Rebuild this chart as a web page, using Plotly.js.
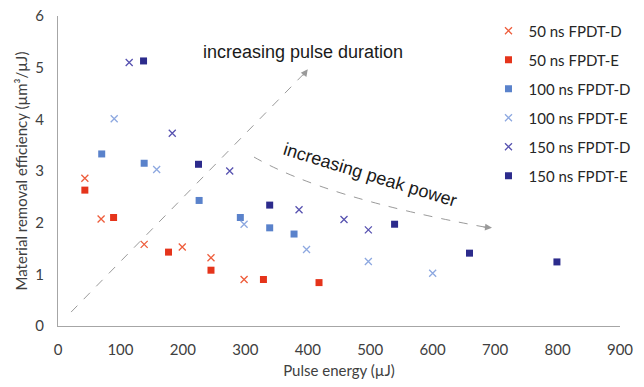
<!DOCTYPE html>
<html>
<head>
<meta charset="utf-8">
<script src="https://cdn.plot.ly/plotly-3.0.1.min.js"></script>
<style>html,body{margin:0;padding:0;background:#fff;}#chart{width:644px;height:387px;}</style>
</head>
<body>
<div id="chart"></div>
<script>
// Data (pulse energy in µJ, efficiency in µm³/µJ)
const seriesNames = ["50 ns FPDT-D", "50 ns FPDT-E", "100 ns FPDT-D", "100 ns FPDT-E", "150 ns FPDT-D", "150 ns FPDT-E"];
const x50D = [43, 69, 138, 199, 245, 298];
const y50D = [2.86, 2.07, 1.58, 1.53, 1.32, 0.90];
const x50E = [43, 89, 177, 245, 329, 418];
const y50E = [2.63, 2.10, 1.43, 1.08, 0.90, 0.84];
const x100D = [70, 138, 226, 292, 339, 378];
const y100D = [3.33, 3.15, 2.43, 2.10, 1.90, 1.78];
const x100E = [90, 158, 298, 398, 497, 600];
const y100E = [4.01, 3.03, 1.97, 1.48, 1.25, 1.02];
const x150D = [114, 183, 275, 386, 458, 497];
const y150D = [5.10, 3.73, 3.00, 2.25, 2.06, 1.86];
const x150E = [137, 225, 339, 539, 659, 799];
const y150E = [5.13, 3.13, 2.34, 1.97, 1.41, 1.24];
const xTicks = [0, 100, 200, 300, 400, 500, 600, 700, 800, 900];
const yTicks = [0, 1, 2, 3, 4, 5, 6];

const FONT = "Lato, 'Open Sans', sans-serif";
const colors = ["#EE5D3C", "#E5341B", "#5A82CB", "#8DA8E0", "#5752B0", "#2C2B8C"];

function xTrace(x, y, i) {
  return {x: x, y: y, name: seriesNames[i], type: "scatter", mode: "markers", legendgroup: "g" + i,
    marker: {symbol: "x-thin", size: 7, color: colors[i], line: {color: colors[i], width: 1.3}}};
}
function sqTrace(x, y, i) {
  return {x: x, y: y, name: seriesNames[i], type: "scatter", mode: "markers", legendgroup: "g" + i,
    marker: {symbol: "square", size: 7, color: colors[i]}};
}

const data = [
  xTrace(x50D, y50D, 0),
  sqTrace(x50E, y50E, 1),
  sqTrace(x100D, y100D, 2),
  xTrace(x100E, y100E, 3),
  xTrace(x150D, y150D, 4),
  sqTrace(x150E, y150E, 5)
];

const ANN_FONT = {family: "'Liberation Sans', Arial, sans-serif", size: 18, color: "#1a1a1a"};
const GRAY = "#9A9A9A";

const layout = {
  width: 644, height: 387,
  margin: {l: 58, r: 24, t: 16, b: 61, autoexpand: false},
  paper_bgcolor: "#fff", plot_bgcolor: "#fff",
  font: {family: FONT, size: 15, color: "#404040"},
  showlegend: true,
  legend: {x: 0.766, y: 1.005, xanchor: "left", yanchor: "top", bgcolor: "rgba(0,0,0,0)",
    font: {family: FONT, size: 15, color: "#262626"}, tracegroupgap: 6.5, itemwidth: 30},
  xaxis: {range: [0, 900], tickvals: xTicks, ticktext: xTicks.map(String), showgrid: false, zeroline: false,
    showline: true, linecolor: "#A6A6A6", linewidth: 1, ticks: "", ticklabelstandoff: 10, automargin: false,
    tickfont: {family: FONT, size: 15, color: "#404040"},
    title: {text: "Pulse energy (µJ)", font: {family: FONT, size: 15, color: "#404040"}, standoff: 8}},
  yaxis: {range: [0, 6], tickvals: yTicks, ticktext: yTicks.map(String), showgrid: false, zeroline: false,
    showline: true, linecolor: "#A6A6A6", linewidth: 1, ticks: "", ticklabelstandoff: 10, automargin: false,
    tickfont: {family: FONT, size: 15, color: "#404040"},
    title: {text: "Material removal efficiency (µm³/µJ)", font: {family: FONT, size: 15, color: "#404040"}, standoff: 4}},
  shapes: [
    {type: "line", xref: "x", yref: "y", x0: 21, y0: 0.27, x1: 396, y1: 4.91,
      line: {color: GRAY, width: 1, dash: "dash"}},
    {type: "path", xref: "x", yref: "y", path: "M 313.9,3.27 Q 429.2,2.47 690,1.90",
      line: {color: GRAY, width: 1, dash: "dash"}}
  ],
  annotations: [
    {x: 400, y: 4.97, ax: -6, ay: 8, text: "", xref: "x", yref: "y",
      showarrow: true, arrowhead: 2, arrowsize: 1.4, arrowwidth: 1, arrowcolor: GRAY},
    {x: 695, y: 1.90, ax: -10, ay: -1, text: "", xref: "x", yref: "y",
      showarrow: true, arrowhead: 2, arrowsize: 1.4, arrowwidth: 1, arrowcolor: GRAY},
    {x: 392, y: 5.30, xref: "x", yref: "y", text: "increasing pulse duration", showarrow: false, font: ANN_FONT},
    {x: 500, y: 2.92, xref: "x", yref: "y", text: "increasing peak power", showarrow: false, textangle: 17, font: ANN_FONT}
  ]
};

Plotly.newPlot("chart", data, layout, {displayModeBar: false, staticPlot: true});
</script>
</body>
</html>
